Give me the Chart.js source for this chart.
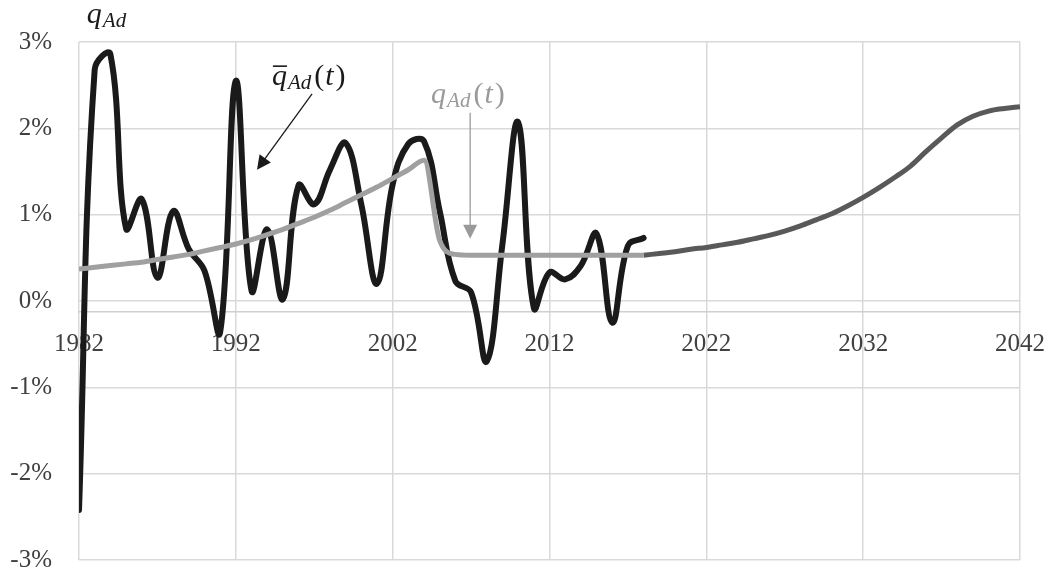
<!DOCTYPE html>
<html>
<head>
<meta charset="utf-8">
<script src="https://cdn.jsdelivr.net/npm/chart.js@4"></script>
<style>
  html, body { margin: 0; padding: 0; background: #fff; }
  #wrap { width: 1056px; height: 571px; }
</style>
</head>
<body>
<div id="wrap"><canvas id="growthChart" width="1056" height="571"></canvas></div>
<script>
// =========================
// DATA
// =========================
const actualYears = [1982, 1983, 1984, 1985, 1986, 1987, 1988, 1989, 1990, 1991,
  1992, 1993, 1994, 1995, 1996, 1997, 1998, 1999, 2000, 2001,
  2002, 2003, 2004, 2005, 2006, 2007, 2008, 2009, 2010, 2011,
  2012, 2013, 2014, 2015, 2016, 2017, 2018];
const actualValues = [-2.42, 2.68, 2.86, 0.84, 1.18, 0.27, 1.04, 0.60, 0.35, -0.36,
  2.55, 0.12, 0.83, 0.02, 1.34, 1.12, 1.52, 1.83, 1.12, 0.20,
  1.35, 1.82, 1.85, 1.04, 0.23, 0.10, -0.70, 0.66, 2.07, -0.08,
  0.33, 0.25, 0.41, 0.78, -0.25, 0.64, 0.73];

const trendYears = actualYears;
const trendValues = [0.37, 0.39, 0.41, 0.43, 0.45, 0.48, 0.51, 0.54, 0.58, 0.62,
  0.66, 0.71, 0.77, 0.83, 0.90, 0.97, 1.05, 1.14, 1.23, 1.32,
  1.42, 1.52, 1.63, 0.70, 0.54, 0.53, 0.53, 0.53, 0.53, 0.53,
  0.53, 0.53, 0.53, 0.53, 0.53, 0.53, 0.53];

const forecastYears = [2018, 2019, 2020, 2021, 2022, 2023, 2024, 2025, 2026, 2027,
  2028, 2029, 2030, 2031, 2032, 2033, 2034, 2035, 2036, 2037,
  2038, 2039, 2040, 2041, 2042];
const forecastValues = [0.53, 0.55, 0.57, 0.60, 0.62, 0.65, 0.68, 0.72, 0.76, 0.81,
  0.87, 0.94, 1.01, 1.10, 1.20, 1.31, 1.43, 1.56, 1.73, 1.89,
  2.04, 2.14, 2.20, 2.23, 2.25];

const yearTicks = [1982, 1992, 2002, 2012, 2022, 2032, 2042];
const percentTicks = [-3, -2, -1, 0, 1, 2, 3];

function toPoints(xs, ys) {
  return xs.map((x, i) => ({ x: x, y: ys[i] }));
}

// =========================
// TEXT LABELS + ARROWS
// =========================
const SERIF = '"Liberation Serif", "Times New Roman", serif';

function drawFormula(ctx, x, y, parts, color) {
  ctx.fillStyle = color;
  ctx.textBaseline = 'alphabetic';
  ctx.textAlign = 'left';
  parts.forEach(p => {
    ctx.font = (p.italic ? 'italic ' : '') + p.size + 'px ' + SERIF;
    ctx.fillText(p.text, x, y + (p.dy || 0));
    x += ctx.measureText(p.text).width + (p.gap || 0);
  });
}

function drawArrow(ctx, x1, y1, x2, y2, color, width, head) {
  const ang = Math.atan2(y2 - y1, x2 - x1);
  ctx.strokeStyle = color;
  ctx.fillStyle = color;
  ctx.lineWidth = width;
  ctx.beginPath();
  ctx.moveTo(x1, y1);
  ctx.lineTo(x2 - Math.cos(ang) * head * 0.8, y2 - Math.sin(ang) * head * 0.8);
  ctx.stroke();
  ctx.beginPath();
  ctx.moveTo(x2, y2);
  ctx.lineTo(x2 - head * Math.cos(ang) + head * 0.5 * Math.sin(ang), y2 - head * Math.sin(ang) - head * 0.5 * Math.cos(ang));
  ctx.lineTo(x2 - head * Math.cos(ang) - head * 0.5 * Math.sin(ang), y2 - head * Math.sin(ang) + head * 0.5 * Math.cos(ang));
  ctx.closePath();
  ctx.fill();
}

function seriesLabel(extraGap) {
  return [
    { text: 'q', size: 30, italic: true, gap: 1 },
    { text: 'Ad', size: 21, italic: true, dy: 4, gap: extraGap },
    { text: '(', size: 30, italic: false, gap: 1 },
    { text: 't', size: 30, italic: true, gap: 2 },
    { text: ')', size: 30, italic: false }
  ];
}

const notesPlugin = {
  id: 'notes',
  afterDraw(chart) {
    const { ctx, scales } = chart;
    const px = v => scales.x.getPixelForValue(v);
    const py = v => scales.y.getPixelForValue(v);
    ctx.save();

    // axis title top left
    drawFormula(ctx, px(1982.5), py(3.22), [
      { text: 'q', size: 30, italic: true, gap: 1 },
      { text: 'Ad', size: 21, italic: true, dy: 4 }
    ], '#1a1a1a');

    // smoothed series label
    const bx = px(1994.3), by = py(2.5);
    drawFormula(ctx, bx, by, seriesLabel(3), '#1a1a1a');
    ctx.strokeStyle = '#1a1a1a';
    ctx.lineWidth = 1.6;
    ctx.beginPath();
    ctx.moveTo(bx + 1, by - 19);
    ctx.lineTo(bx + 15, by - 19);
    ctx.stroke();
    drawArrow(ctx, px(1996.86), py(2.4), px(1993.35), py(1.52), '#1a1a1a', 1.3, 14);

    // gray series label
    drawFormula(ctx, px(2004.45), py(2.29), seriesLabel(3), '#9a9a9a');
    drawArrow(ctx, px(2006.94), py(2.18), px(2006.94), py(0.72), '#9a9a9a', 1.3, 14);

    ctx.restore();
  }
};

// =========================
// CHART
// =========================
const ctx = document.getElementById('growthChart').getContext('2d');

function noPadding(s) {
  s.paddingLeft = 0;
  s.paddingRight = 0;
  s.paddingTop = 0;
  s.paddingBottom = 0;
}

new Chart(ctx, {
  type: 'line',
  data: {
    datasets: [
      {
        label: 'trend',
        data: toPoints(trendYears, trendValues),
        borderColor: '#a0a0a0',
        borderWidth: 5,
        pointRadius: 0,
        cubicInterpolationMode: 'monotone',
        order: 0
      },
      {
        label: 'actual',
        data: toPoints(actualYears, actualValues),
        borderColor: '#1a1a1a',
        borderWidth: 6,
        pointRadius: 0,
        tension: 0.4,
        borderCapStyle: 'round',
        order: 1
      },
      {
        label: 'forecast',
        data: toPoints(forecastYears, forecastValues),
        borderColor: '#595959',
        borderWidth: 5,
        pointRadius: 0,
        cubicInterpolationMode: 'monotone',
        order: 2
      }
    ]
  },
  options: {
    responsive: false,
    animation: false,
    devicePixelRatio: 1,
    layout: { padding: { left: 0, right: 36, top: 42, bottom: 11 } },
    plugins: {
      legend: { display: false },
      tooltip: { enabled: false }
    },
    scales: {
      x: {
        type: 'linear',
        min: 1982,
        max: 2042,
        position: { y: -0.12 },
        afterFit: s => { s.height = 0; noPadding(s); },
        afterBuildTicks: s => { s.ticks = yearTicks.map(v => ({ value: v })); },
        grid: { color: '#d9d9d9', lineWidth: 1.5, drawTicks: false },
        border: { display: true, color: '#d0d0d0', width: 1.5 },
        ticks: {
          padding: 18,
          color: '#404040',
          font: { family: SERIF, size: 25 },
          maxRotation: 0,
          callback: v => String(v)
        }
      },
      y: {
        min: -3,
        max: 3,
        afterFit: s => { s.width = 79; noPadding(s); },
        afterBuildTicks: s => { s.ticks = percentTicks.map(v => ({ value: v })); },
        grid: { color: '#d9d9d9', lineWidth: 1.5, drawTicks: false },
        border: { display: false },
        ticks: {
          padding: 27,
          color: '#404040',
          font: { family: SERIF, size: 25 },
          callback: v => v + '%'
        }
      }
    }
  },
  plugins: [notesPlugin]
});
</script>
</body>
</html>
